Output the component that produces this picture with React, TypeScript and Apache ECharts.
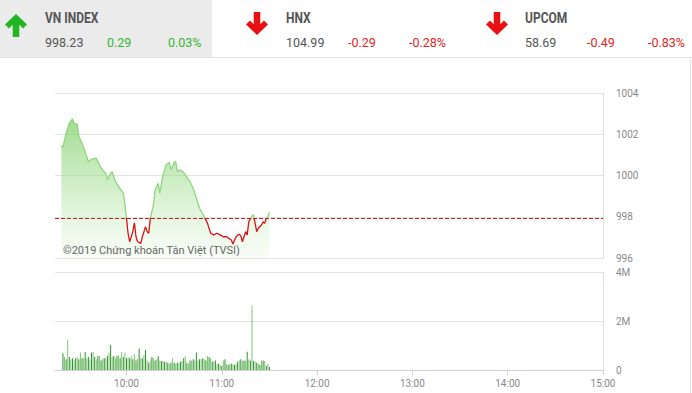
import React, { useEffect, useRef } from "react";
import * as echarts from "echarts";

// ---- Data (minutes after 09:00) ----
const priceTimes = [19,20,22,24,26,27,29,30,32,34,36,38,41,43,45,47,48,50,51,53,55,58,59,60,61,62,64,65,66,67,69,70,72,73,74,75,77,78,80,81,83,85,87,88,90,91,92,94,96,98,100,102,104,106,108,109,111,113,115,117,119,121,123,126,127,129,131,132,133,135,136,137,139,140,141,142,143,145,146,147,148,149,150];
const priceValues = [1001.44,1001.37,1002.05,1002.54,1002.75,1002.54,1002.49,1001.89,1001.57,1001.16,1000.67,1000.79,1000.84,1000.51,1000.27,1000.11,999.79,1000.11,1000.19,999.70,999.46,999.14,998.65,997.92,997.20,996.79,997.28,997.71,997.03,996.79,996.71,997.03,997.52,997.28,997.20,997.92,998.57,999.30,999.62,999.14,1000.03,1000.51,1000.63,1000.27,1000.63,1000.67,1000.19,1000.27,1000.14,999.92,999.70,999.38,998.90,998.41,998.14,998.00,997.68,997.20,997.12,997.20,997.12,997.03,997.03,996.87,996.68,997.03,997.16,997.07,996.79,997.28,997.12,997.76,998.04,998.09,997.68,997.28,997.44,997.60,997.76,997.68,997.92,998.00,998.23];
const prevClose = 997.94;

// volume in millions, one bar per minute starting 09:20
const volumeStart = 20;
const volumeValues = [
  0.68,0.53,0.44,1.21,0.53,0.44,0.48,0.39,0.48,0.53,
  0.44,0.71,0.48,0.48,0.73,0.48,0.53,0.44,0.71,0.73,
  0.53,0.44,0.57,0.57,0.39,0.44,0.48,0.48,0.57,0.71,
  1.02,0.53,0.57,0.48,0.57,0.60,0.48,0.75,0.53,0.71,
  0.48,0.53,0.48,0.57,0.44,0.64,0.39,0.45,0.88,0.48,
  0.48,0.61,0.82,0.39,0.30,0.39,0.53,0.48,0.39,0.44,
  0.56,0.39,0.37,0.37,0.34,0.34,0.30,0.26,0.30,0.48,
  0.30,0.26,0.30,0.30,0.34,0.37,0.48,0.57,0.30,0.26,
  0.39,0.39,0.44,0.39,0.71,0.39,0.44,0.44,0.48,0.44,
  0.39,0.57,0.53,0.48,0.34,0.37,0.39,0.23,0.26,0.20,
  0.16,0.40,0.44,0.23,0.20,0.26,0.26,0.23,0.20,0.26,
  0.34,0.39,0.44,0.37,0.39,0.37,0.75,0.44,0.39,2.61,
  0.37,0.34,0.30,0.26,0.20,0.39,0.39,0.37,0.16,0.26,
  0.12,
];

const sessionStart = 15; // 09:15
const sessionEnd = 360; // 15:00
const timeTickLabels = ["10:00", "11:00", "12:00", "13:00", "14:00", "15:00"];

// header indices
const indexNames = ["VN INDEX", "HNX", "UPCOM"];
const indexValues = ["998.23", "104.99", "58.69"];
const indexChanges = ["0.29", "-0.29", "-0.49"];
const indexPercents = ["0.03%", "-0.28%", "-0.83%"];

const fmtTime = (v: number) => {
  const h = 9 + Math.floor(v / 60);
  const m = v % 60;
  return `${h}:${m < 10 ? "0" + m : m}`;
};
const minuteCategories: string[] = [];
for (let m = sessionStart; m <= sessionEnd; m++) minuteCategories.push(fmtTime(m));
const isHourTick = (_i: number, value: string) => timeTickLabels.indexOf(value) >= 0;

const arrowPoints = (x0: number, y0: number, up: boolean) => {
  const w = 22, h = 23;
  const pts = [
    [11, 0], [22, 10.5], [18, 14.5], [14.3, 10.8], [14.3, 23], [7.7, 23], [7.7, 10.8], [4, 14.5], [0, 10.5],
  ];
  return pts.map(([px, py]) => [x0 + (px / 22) * w, y0 + (up ? py : h - py)]);
};

export default function App() {
  const ref = useRef<HTMLDivElement>(null);
  useEffect(() => {
    document.body.style.margin = "0";
    const chart = echarts.init(ref.current!, null, { renderer: "svg" });
    const green = "#34b534";
    const red = "#e02424";
    const lineGreen = "#8ed67c";
    const lineRed = "#d81212";
    const headerX = [45, 286, 525];
    const arrowX = [5, 246, 486];
    const header: any[] = [
      { type: "rect", shape: { x: 0, y: 0, width: 212, height: 57 }, style: { fill: "#ebebeb" }, z: 1 },
      { type: "line", shape: { x1: 0, y1: 57.5, x2: 692, y2: 57.5 }, style: { stroke: "#e2e2e2", lineWidth: 1 }, z: 1 },
      { type: "line", shape: { x1: 690.5, y1: 58, x2: 690.5, y2: 393 }, style: { stroke: "#e6e6e6", lineWidth: 1 }, z: 1 },
    ];
    indexNames.forEach((name, i) => {
      const up = !indexChanges[i].startsWith("-");
      const col = up ? green : red;
      header.push({
        type: "polygon",
        shape: { points: arrowPoints(arrowX[i], up ? 14 : 12, up) },
        style: { fill: up ? "#22b422" : "#e81010" },
        z: 2,
      });
      header.push({
        type: "text", x: headerX[i], y: 17, scaleX: 0.8,
        style: { text: name, font: "bold 15px Roboto", fill: "#555", verticalAlign: "middle" }, z: 2,
      });
      header.push({
        type: "text", x: headerX[i], y: 42,
        style: { text: indexValues[i], font: "12.5px Roboto", fill: "#555", verticalAlign: "middle" }, z: 2,
      });
      header.push({
        type: "text", x: headerX[i] + 62, y: 42,
        style: { text: indexChanges[i], font: "12.5px Roboto", fill: col, verticalAlign: "middle" }, z: 2,
      });
      header.push({
        type: "text", x: headerX[i] + 123, y: 42,
        style: { text: indexPercents[i], font: "12.5px Roboto", fill: col, verticalAlign: "middle" }, z: 2,
      });
    });
    header.push({
      type: "text", x: 63, y: 250,
      style: { text: "©2019 Chứng khoán Tân Việt (TVSI)", font: "11px Roboto", fill: "#666", verticalAlign: "middle" },
      z: 10,
    });

    const option: any = {
      animation: false,
      textStyle: { fontFamily: "Roboto" },
      graphic: header,
      grid: [
        { left: 55, right: 89, top: 93, height: 165 },
        { left: 55, right: 89, top: 272, height: 98 },
      ],
      xAxis: [
        { type: "category", gridIndex: 0, data: minuteCategories, boundaryGap: false, show: false },
        {
          type: "category", gridIndex: 1, data: minuteCategories, boundaryGap: false,
          axisLine: { show: true, lineStyle: { color: "#cfcfcf" } },
          axisTick: { show: true, interval: isHourTick, length: 5, lineStyle: { color: "#cfcfcf" } },
          axisLabel: { interval: isHourTick, color: "#888", fontSize: 10, margin: 8 },
          splitLine: { show: false },
        },
      ],
      yAxis: [
        {
          type: "value", gridIndex: 0, position: "right", min: 996, max: 1004, interval: 2,
          axisLine: { show: true, lineStyle: { color: "#dedede" } },
          axisTick: { show: false },
          axisLabel: { color: "#888", fontSize: 10, margin: 13, formatter: (v: number) => String(v) },
          splitLine: { lineStyle: { color: "#e3e3e3" } },
        },
        {
          type: "value", gridIndex: 1, position: "right", min: 0, max: 4, interval: 2,
          axisLine: { show: true, lineStyle: { color: "#dedede" } },
          axisTick: { show: false },
          axisLabel: { color: "#888", fontSize: 10, margin: 13, formatter: (v: number) => (v === 0 ? "0" : v + "M") },
          splitLine: { lineStyle: { color: "#e3e3e3" } },
        },
      ],
      series: [
        {
          type: "line", xAxisIndex: 0, yAxisIndex: 0,
          data: priceTimes.map((t, i) => [t - sessionStart, priceValues[i]]),
          showSymbol: false, symbol: "none",
          lineStyle: { width: 1.3, color: lineGreen },
          areaStyle: {
            color: new echarts.graphic.LinearGradient(0, 0, 0, 1, [
              { offset: 0, color: "rgba(112,202,88,0.95)" },
              { offset: 0.5, color: "rgba(170,225,155,0.75)" },
              { offset: 1, color: "rgba(232,248,228,0.45)" },
            ]),
          },
          markLine: {
            silent: true, symbol: ["none", "none"],
            label: { show: false },
            lineStyle: { type: "dashed", color: "#c62020", width: 1 },
            data: [{ yAxis: prevClose }],
          },
          z: 3,
        },
        {
          type: "bar", xAxisIndex: 1, yAxisIndex: 1,
          data: volumeValues.map((v, i) => [volumeStart + i - sessionStart, v]),
          barWidth: 1,
          itemStyle: {
            color: (p: any) => (p.dataIndex % 2 === 0 ? "#2e8f2e" : "#7cc66f"),
          },
        },
      ],
    };
    chart.setOption(option);
    // colour the price line red below the previous close, using the axis scale
    const yTop = chart.convertToPixel({ yAxisIndex: 0 }, 1004) as number;
    const yBot = chart.convertToPixel({ yAxisIndex: 0 }, 996) as number;
    const yRef = chart.convertToPixel({ yAxisIndex: 0 }, prevClose) as number;
    const off = (yRef - yTop) / (yBot - yTop);
    chart.setOption({
      series: [
        {
          lineStyle: {
            color: new echarts.graphic.LinearGradient(0, yTop, 0, yBot, [
              { offset: 0, color: lineGreen },
              { offset: off, color: lineGreen },
              { offset: off, color: lineRed },
              { offset: 1, color: lineRed },
            ], true),
          },
        },
      ],
    });
    return () => chart.dispose();
  }, []);
  return <div ref={ref} style={{ width: 692, height: 393 }} />;
}
